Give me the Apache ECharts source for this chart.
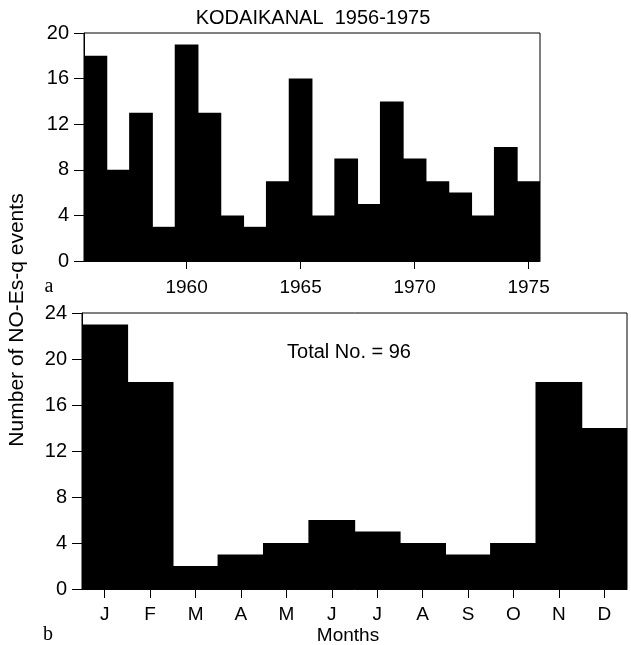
<!DOCTYPE html>
<html>
<head>
<meta charset="utf-8">
<script src="https://cdn.jsdelivr.net/npm/echarts@6/dist/echarts.min.js"></script>
<style>
html,body{margin:0;padding:0;background:#fff;}
#chart{width:631px;height:645px;}
</style>
</head>
<body>
<div id="chart"></div>
<script>
const years = ['1956','1957','1958','1959','1960','1961','1962','1963','1964','1965','1966','1967','1968','1969','1970','1971','1972','1973','1974','1975'];
const yearCounts = [18, 8, 13, 3, 19, 13, 4, 3, 7, 16, 4, 9, 5, 14, 9, 7, 6, 4, 10, 7];
const months = ['J','F','M','A','M','J','J','A','S','O','N','D'];
const monthCounts = [23, 18, 2, 3, 4, 6, 5, 4, 3, 4, 18, 14];
const yearTicks = ['1960','1965','1970','1975'];
const topYTicks = [0, 4, 8, 12, 16, 20];
const botYTicks = [0, 4, 8, 12, 16, 20, 24];

const FONT = '"Liberation Sans", Arial, Helvetica, sans-serif';
const SERIF = '"Liberation Serif", "DejaVu Serif", serif';
const black = '#000';

const chart = echarts.init(document.getElementById('chart'), null, {renderer: 'canvas'});

const axisLine = {show: true, lineStyle: {color: black, width: 1}};
const yLabel = {color: black, fontFamily: FONT, fontSize: 20, margin: 15};
const yTick = {show: true, length: 10, lineStyle: {color: black}};

chart.setOption({
  backgroundColor: '#fff',
  animation: false,
  grid: [
    {left: 84, top: 33, width: 456, height: 228, show: true, borderColor: black, borderWidth: 1, backgroundColor: 'transparent'},
    {left: 82, top: 313, width: 545, height: 276, show: true, borderColor: black, borderWidth: 1, backgroundColor: 'transparent'}
  ],
  xAxis: [
    {
      type: 'category', gridIndex: 0, data: years, boundaryGap: true,
      axisLine: axisLine,
      axisTick: {show: true, alignWithLabel: true, length: 8, lineStyle: {color: black},
        interval: function (i, v) { return yearTicks.indexOf(v) >= 0; }},
      axisLabel: {color: black, fontFamily: FONT, fontSize: 19, margin: 17,
        interval: function (i, v) { return yearTicks.indexOf(v) >= 0; }},
      splitLine: {show: false}
    },
    {
      type: 'category', gridIndex: 1, data: months, boundaryGap: true,
      axisLine: axisLine,
      axisTick: {show: true, alignWithLabel: true, length: 9, interval: 0, lineStyle: {color: black}},
      axisLabel: {color: black, fontFamily: FONT, fontSize: 19, margin: 16, interval: 0},
      splitLine: {show: false}
    }
  ],
  yAxis: [
    {
      type: 'value', gridIndex: 0, min: topYTicks[0], max: topYTicks[topYTicks.length - 1], interval: 4,
      axisLine: axisLine, axisTick: yTick, axisLabel: yLabel,
      splitLine: {show: false}
    },
    {
      type: 'value', gridIndex: 1, min: botYTicks[0], max: botYTicks[botYTicks.length - 1], interval: 4,
      axisLine: axisLine, axisTick: yTick, axisLabel: yLabel,
      splitLine: {show: false}
    }
  ],
  series: [
    {
      type: 'bar', xAxisIndex: 0, yAxisIndex: 0, data: yearCounts,
      barCategoryGap: '0%', barWidth: '104%',
      itemStyle: {color: black}
    },
    {
      type: 'bar', xAxisIndex: 1, yAxisIndex: 1, data: monthCounts,
      barCategoryGap: '0%', barWidth: '103%',
      itemStyle: {color: black}
    }
  ],
  graphic: [
    {type: 'text', x: 313, y: 18.5, style: {text: 'KODAIKANAL  1956-1975', fontFamily: FONT, fontSize: 20, fill: black, align: 'center', verticalAlign: 'middle'}},
    {type: 'text', x: 349, y: 352, style: {text: 'Total No. = 96', fontFamily: FONT, fontSize: 20, fill: black, align: 'center', verticalAlign: 'middle'}},
    {type: 'text', x: 348, y: 636, style: {text: 'Months', fontFamily: FONT, fontSize: 19, fill: black, align: 'center', verticalAlign: 'middle'}},
    {type: 'text', x: 17, y: 320, rotation: Math.PI / 2, style: {text: 'Number of NO-Es-q events', fontFamily: FONT, fontSize: 21, fill: black, align: 'center', verticalAlign: 'middle'}},
    {type: 'text', x: 49, y: 287, style: {text: 'a', fontFamily: SERIF, fontSize: 20, fill: black, align: 'center', verticalAlign: 'middle'}},
    {type: 'text', x: 48, y: 635, style: {text: 'b', fontFamily: SERIF, fontSize: 20, fill: black, align: 'center', verticalAlign: 'middle'}}
  ]
});
</script>
</body>
</html>
